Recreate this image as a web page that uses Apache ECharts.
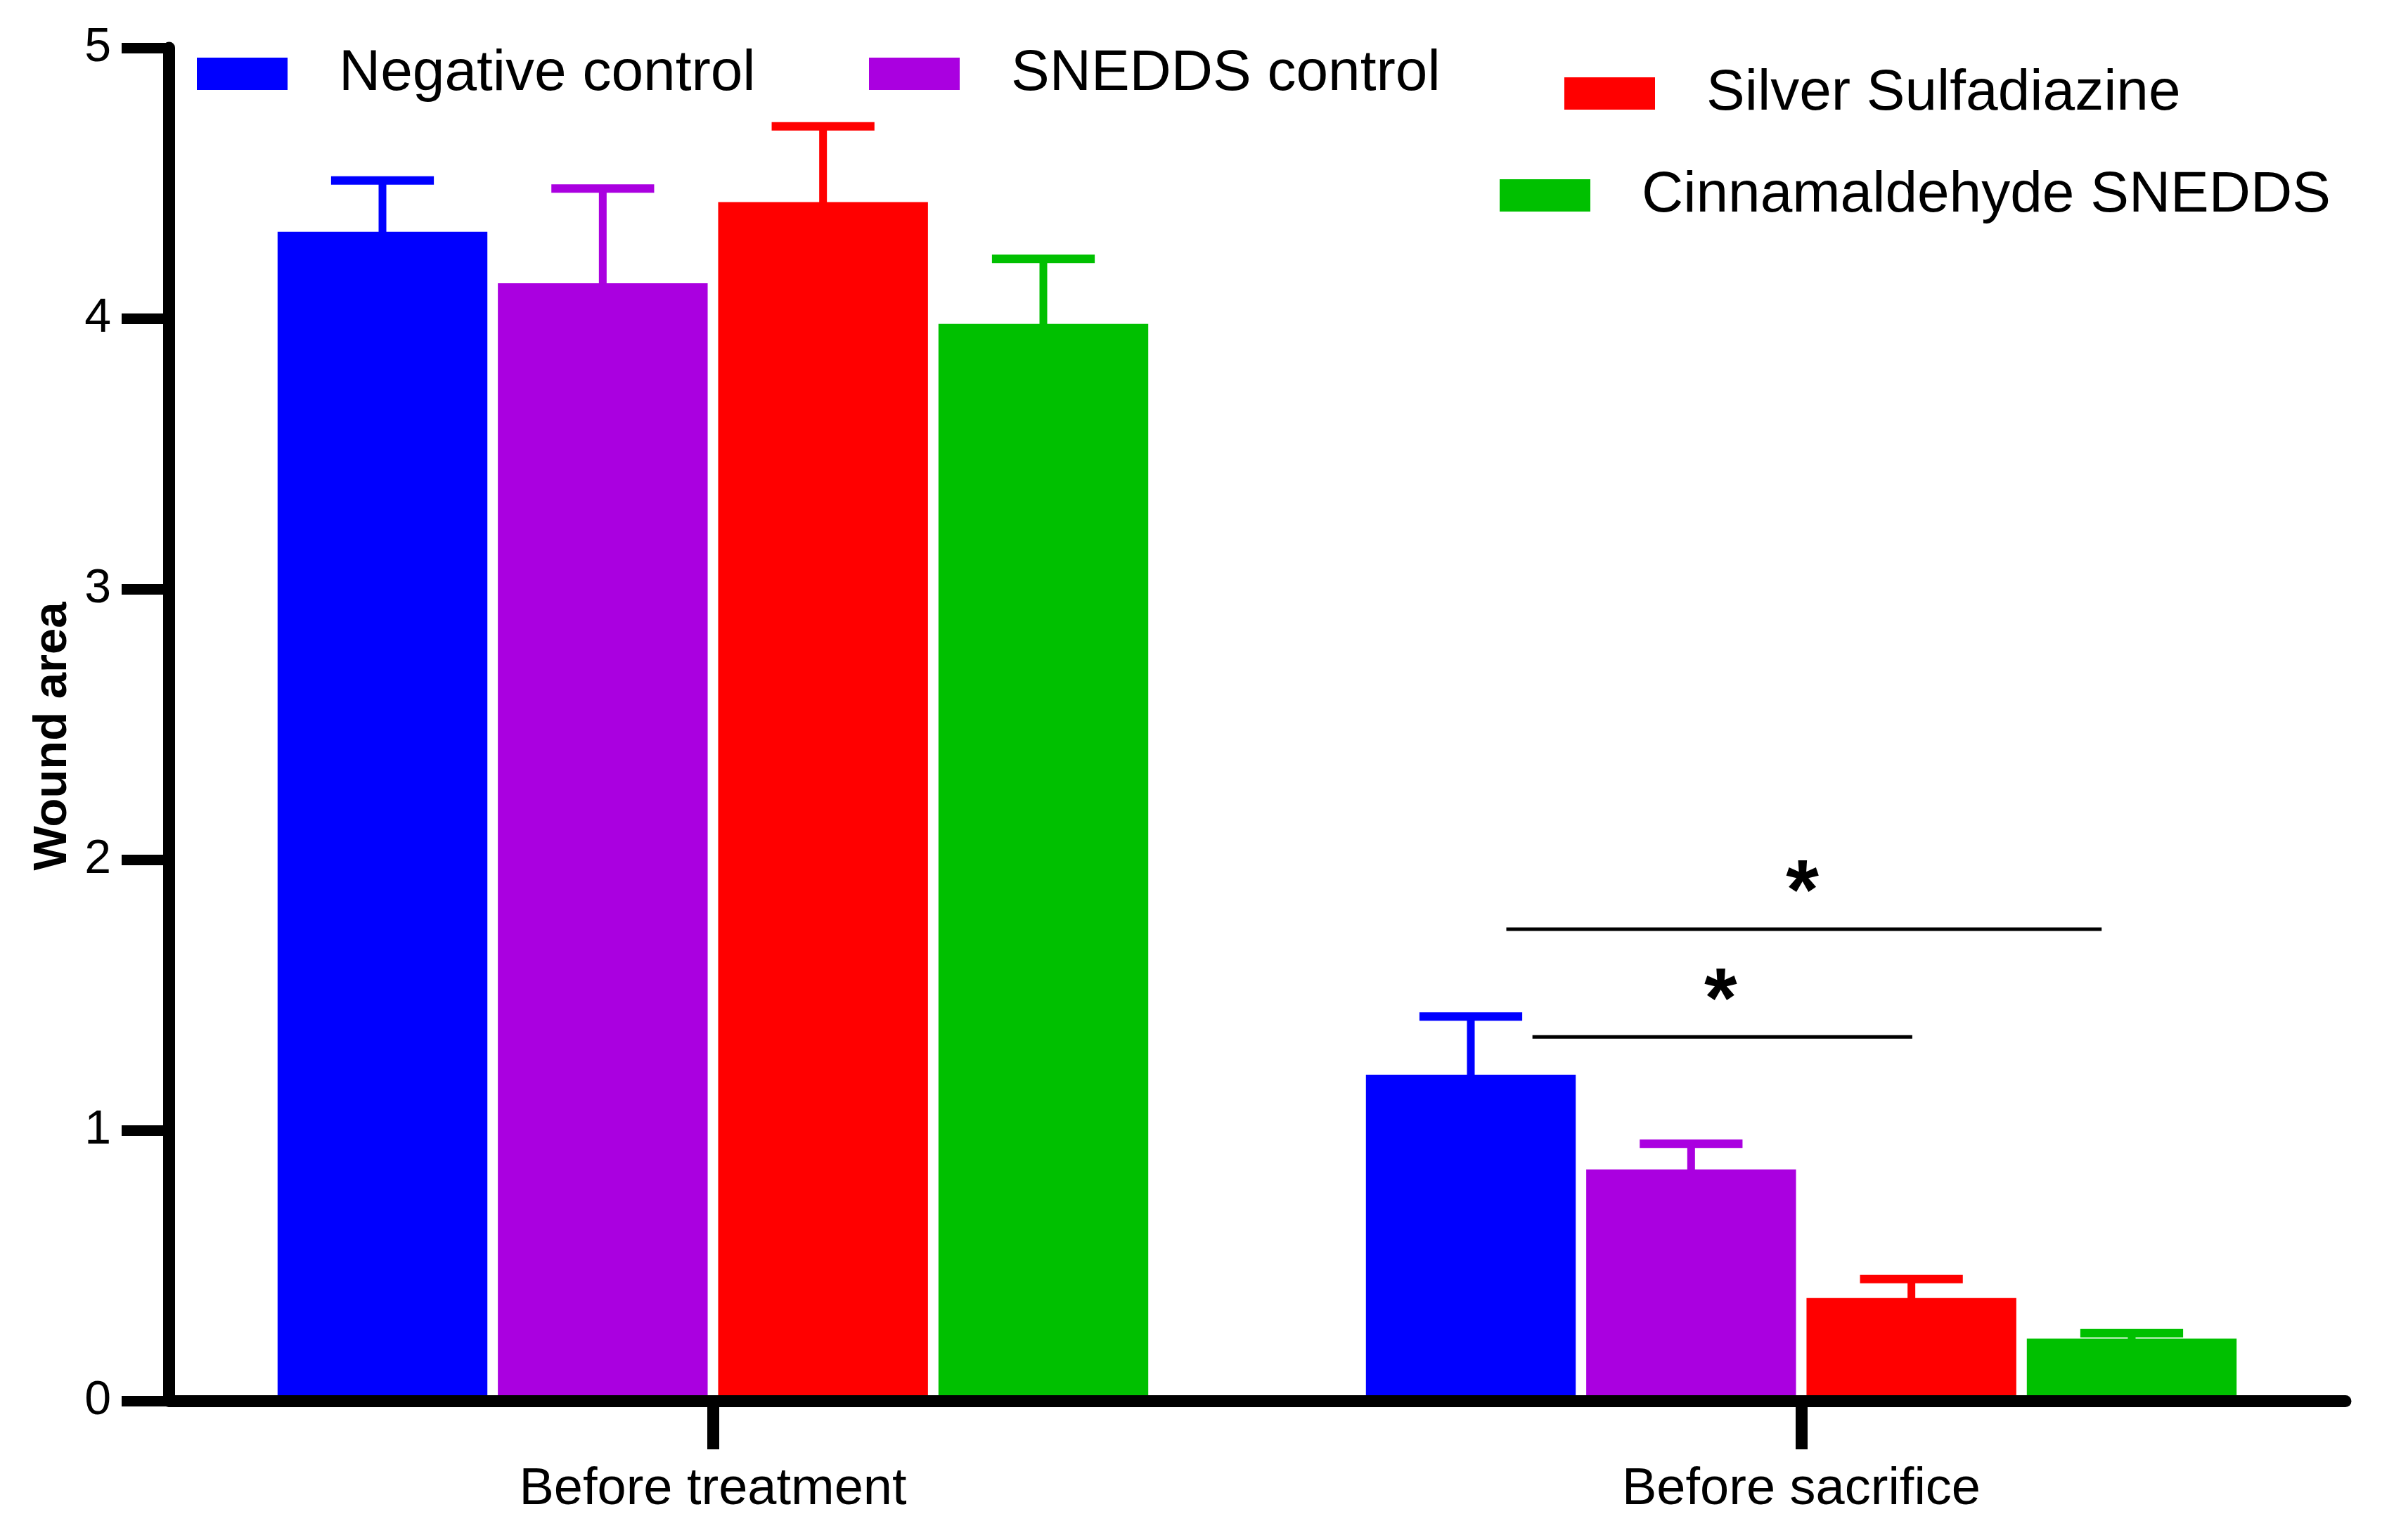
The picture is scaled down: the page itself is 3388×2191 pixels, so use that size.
<!DOCTYPE html>
<html>
<head>
<meta charset="utf-8">
<script src="https://cdn.jsdelivr.net/npm/echarts@6/dist/echarts.min.js"></script>
<style>
html, body { margin: 0; padding: 0; background: #fff; }
#chart { width: 3388px; height: 2191px; }
</style>
</head>
<body>
<div id="chart"></div>
<script>
// ---- data ----
const categories = ['Before treatment', 'Before sacrifice'];
const seriesNames = ['Negative control', 'SNEDDS control', 'Silver Sulfadiazine', 'Cinnamaldehyde SNEDDS'];
const negativeControl = [4.32, 1.205];
const sneddsControl = [4.13, 0.855];
const silverSulfadiazine = [4.43, 0.38];
const cinnamaldehydeSnedds = [3.98, 0.23];
// upper end of error bars (mean + SD)
const negativeControlUpper = [4.51, 1.42];
const sneddsControlUpper = [4.48, 0.95];
const silverSulfadiazineUpper = [4.71, 0.45];
const cinnamaldehydeSneddsUpper = [4.22, 0.25];
const yTicks = { min: 0, max: 5, interval: 1 };
// significance brackets: [categoryIndex, value, startFraction, endFraction]
const sigLines = [[1, 1.743, -0.271, 0.276], [1, 1.345, -0.247, 0.102]];
// significance stars: [categoryIndex, value, xFraction]
const sigStars = [[1, 1.93, 0.001], [1, 1.53, -0.074]];

const colors = ['#0000FF', '#AA00E0', '#FF0000', '#00C000'];
const means = [negativeControl, sneddsControl, silverSulfadiazine, cinnamaldehydeSnedds];
const uppers = [negativeControlUpper, sneddsControlUpper, silverSulfadiazineUpper, cinnamaldehydeSneddsUpper];
const FONT = "'Liberation Sans', Arial, sans-serif";
const BAR_GAP = 0.05, CAT_GAP = 0.2, N = 4;

const errData = [];
means.forEach((arr, si) => arr.forEach((v, ci) => errData.push([ci, v, uppers[si][ci], si])));

const chart = echarts.init(document.getElementById('chart'));

const barSeries = seriesNames.map((name, i) => ({
  name: name,
  type: 'bar',
  data: means[i],
  barGap: '5%',
  barCategoryGap: '20%',
  itemStyle: { color: colors[i] },
  z: 2
}));

const legendPos = [
  { left: 280, top: 64 },
  { left: 1236, top: 64 },
  { left: 2225, top: 92 },
  { left: 2133, top: 237 }
];

const option = {
  backgroundColor: '#fff',
  animation: false,
  legend: seriesNames.map((n, i) => ({
    data: [n],
    left: legendPos[i].left,
    top: legendPos[i].top,
    padding: 0,
    selectedMode: false,
    icon: 'rect',
    itemWidth: 129,
    itemHeight: 46,
    textStyle: { fontSize: 82, fontFamily: FONT, color: '#000', lineHeight: 46, padding: [0, 0, 0, 68] }
  })),
  grid: { left: 240, right: 52, top: 68, bottom: 198, containLabel: false },
  xAxis: {
    type: 'category',
    data: categories,
    z: 10,
    axisLine: { lineStyle: { color: '#000', width: 17 } },
    axisTick: { show: true, length: 69, lineStyle: { color: '#000', width: 17 }, alignWithLabel: true },
    axisLabel: { fontSize: 74, fontFamily: FONT, color: '#000', margin: 90 }
  },
  yAxis: {
    type: 'value',
    min: yTicks.min, max: yTicks.max, interval: yTicks.interval,
    z: 10,
    name: 'Wound area',
    nameLocation: 'middle',
    nameGap: 128,
    nameTextStyle: { fontSize: 67, fontWeight: 'bold', fontFamily: FONT, color: '#000', padding: [0, 34, 0, 0] },
    axisLine: { show: true, lineStyle: { color: '#000', width: 17 } },
    axisTick: { show: true, length: 67, lineStyle: { color: '#000', width: 15 } },
    axisLabel: { fontSize: 68, fontFamily: FONT, color: '#000', margin: 82 },
    splitLine: { show: false }
  },
  series: barSeries.concat([
    {
      type: 'custom',
      name: 'errorbars',
      data: errData,
      z: 3,
      renderItem: function (params, api) {
        const ci = api.value(0), mean = api.value(1), up = api.value(2), si = api.value(3);
        const band = api.size([1, 0])[0];
        const bw = band * (1 - CAT_GAP) / (N + (N - 1) * BAR_GAP);
        const p0 = api.coord([ci, mean]);
        const p1 = api.coord([ci, up]);
        const x = p0[0] - band * (1 - CAT_GAP) / 2 + bw / 2 + si * bw * (1 + BAR_GAP);
        const half = bw * 0.245;
        const c = colors[si];
        return {
          type: 'group',
          children: [
            { type: 'line', shape: { x1: x, y1: p0[1] + 4, x2: x, y2: p1[1] }, style: { stroke: c, lineWidth: 11 } },
            { type: 'line', shape: { x1: x - half, y1: p1[1], x2: x + half, y2: p1[1] }, style: { stroke: c, lineWidth: 12 } }
          ]
        };
      }
    },
    {
      type: 'custom',
      name: 'siglines',
      data: sigLines,
      z: 4,
      renderItem: function (params, api) {
        const ci = api.value(0), v = api.value(1), f0 = api.value(2), f1 = api.value(3);
        const band = api.size([1, 0])[0];
        const p = api.coord([ci, v]);
        return { type: 'line', shape: { x1: p[0] + f0 * band, y1: p[1], x2: p[0] + f1 * band, y2: p[1] }, style: { stroke: '#000', lineWidth: 5 } };
      }
    },
    {
      type: 'custom',
      name: 'sigstars',
      data: sigStars,
      z: 4,
      renderItem: function (params, api) {
        const ci = api.value(0), v = api.value(1), f = api.value(2);
        const band = api.size([1, 0])[0];
        const p = api.coord([ci, v]);
        const fs = 120;
        return {
          type: 'text',
          style: {
            text: '*', x: p[0] + f * band, y: p[1] + 0.2 * fs,
            fontSize: fs, fontWeight: 'bold', fontFamily: FONT, fill: '#000',
            align: 'center', verticalAlign: 'middle'
          }
        };
      }
    }
  ])
};
chart.setOption(option);
</script>
</body>
</html>
